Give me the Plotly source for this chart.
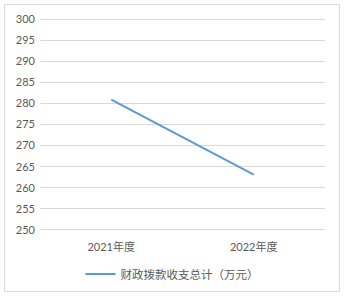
import plotly.graph_objects as go

categories = ["2021年度", "2022年度"]
values = [280.9, 263.1]
series_name = "财政拨款收支总计（万元）"
y_ticks = [250, 255, 260, 265, 270, 275, 280, 285, 290, 295, 300]

W, H = 344, 296
L, R, T, B = 40, 19, 18, 65
pw, ph = W - L - R, H - T - B

def px2x(px):
    return (px - L) / pw

def py2y(py):
    return (H - B - py) / ph

fig = go.Figure()
fig.add_trace(go.Scatter(
    x=categories, y=values, mode="lines", name=series_name,
    line=dict(color="#5b9bd5", width=2),
))

fig.update_layout(
    width=W, height=H,
    margin=dict(l=L, r=R, t=T, b=B, autoexpand=False),
    paper_bgcolor="white", plot_bgcolor="white",
    font=dict(family="Lato, 'Noto Sans CJK SC'", size=11, color="#595959"),
    showlegend=True,
    legend=dict(orientation="h", xref="container", yref="container",
                x=172 / W, xanchor="center",
                y=(H - 274) / H, yanchor="middle",
                font=dict(size=11.5, color="#595959")),
    xaxis=dict(type="category", range=[-0.5, 1.5], showgrid=False,
               showline=False, zeroline=False, ticks="", ticklabelstandoff=8),
    yaxis=dict(range=[249.75, 300.25], tickvals=y_ticks, showgrid=True,
               gridcolor="#d9d9d9", gridwidth=1, zeroline=False,
               showline=False, ticks="", ticklabelstandoff=4),
    shapes=[dict(type="rect", xref="paper", yref="paper",
                 x0=px2x(4.5), x1=px2x(339.5), y0=py2y(291.5), y1=py2y(4.5),
                 line=dict(color="#d9d9d9", width=1), fillcolor="rgba(0,0,0,0)",
                 layer="below")],
)

fig.write_html("out.html")
